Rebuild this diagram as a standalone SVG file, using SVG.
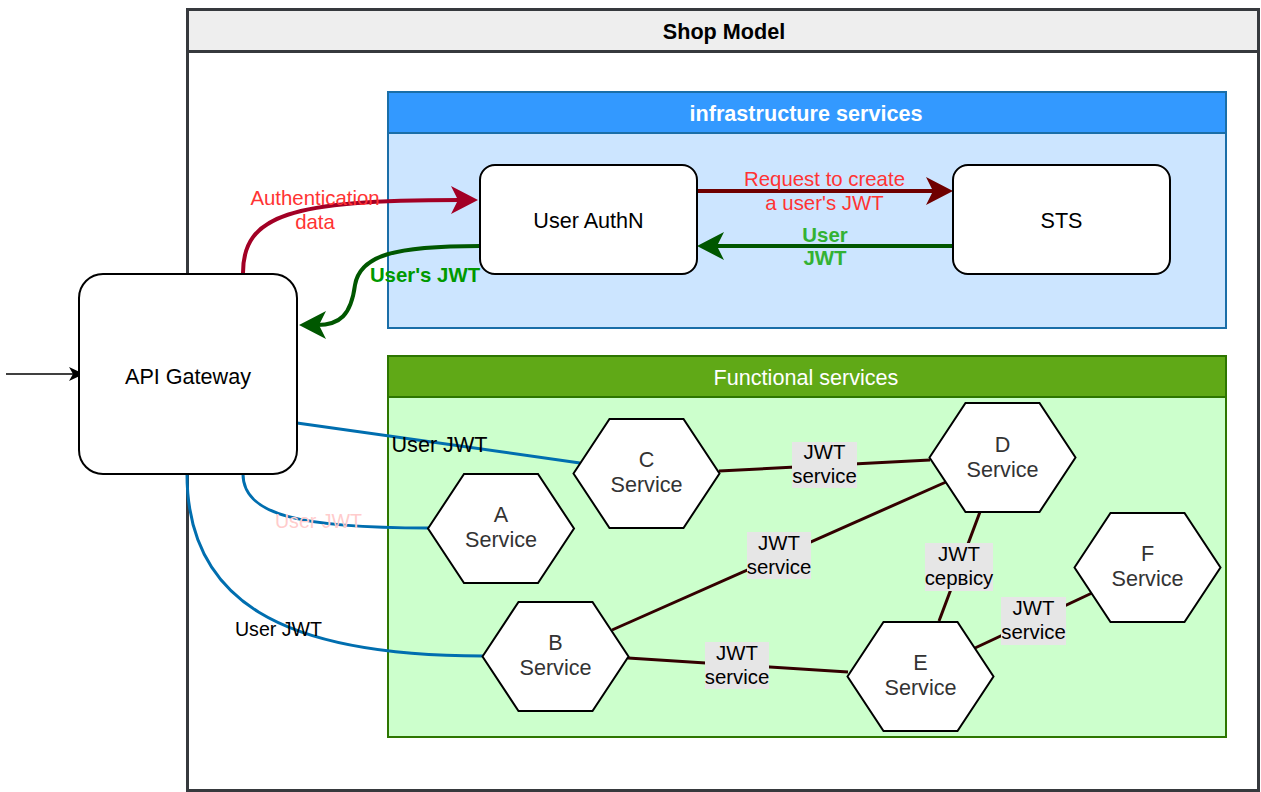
<svg xmlns="http://www.w3.org/2000/svg" width="1261" height="792" viewBox="0 0 1261 792">
  <style>
    text { font-family: "Liberation Sans", Arial, Helvetica, sans-serif; text-anchor: middle; }
    .t22 { font-size: 21.6px; fill: #000; }
    .t20 { font-size: 20.4px; fill: #000; }
    .t19 { font-size: 19.6px; }
    .bold { font-weight: bold; }
    .hex { fill: #ffffff; stroke: #000; stroke-width: 2; }
    .hexlbl { font-size: 21.6px; fill: #333333; }
    .box { fill: #ffffff; stroke: #000; stroke-width: 2; }
    .svc { fill: none; stroke: #330000; stroke-width: 3; }
    .jwt { fill: none; stroke: #006eaf; stroke-width: 3; }
    .lblbg { fill: #e6e6e6; }
  </style>
  <defs>
    <marker id="arrCrimson" markerUnits="userSpaceOnUse" markerWidth="28" markerHeight="28" viewBox="0 0 28 28" refX="9" refY="14" orient="auto">
      <path d="M0,0 L27,14 L0,28 L7,14 Z" fill="#a20025"/>
    </marker>
    <marker id="arrGreen" markerUnits="userSpaceOnUse" markerWidth="28" markerHeight="28" viewBox="0 0 28 28" refX="9" refY="14" orient="auto">
      <path d="M0,0 L27,14 L0,28 L7,14 Z" fill="#005700"/>
    </marker>
    <marker id="arrDarkRed" markerUnits="userSpaceOnUse" markerWidth="28" markerHeight="28" viewBox="0 0 28 28" refX="9" refY="14" orient="auto">
      <path d="M0,0 L27,14 L0,28 L7,14 Z" fill="#6f0000"/>
    </marker>
    <marker id="arrBlack" markerUnits="userSpaceOnUse" markerWidth="16" markerHeight="16" viewBox="0 0 16 16" refX="5" refY="8" orient="auto">
      <path d="M0,1 L15,8 L0,15 L4,8 Z" fill="#000"/>
    </marker>
  </defs>

  <rect width="1261" height="792" fill="#ffffff"/>

  <!-- Shop Model container -->
  <g id="shop-model">
    <rect x="187.5" y="9.5" width="1071" height="781" fill="#ffffff" stroke="#36393d" stroke-width="3"/>
    <rect x="187.5" y="9.5" width="1071" height="42" fill="#eeeeee" stroke="#36393d" stroke-width="3"/>
    <text class="t22 bold" x="724" y="38.5">Shop Model</text>
  </g>

  <!-- infrastructure services container -->
  <g id="infrastructure-services">
    <rect x="388" y="92" width="838" height="236" fill="#cce5ff" stroke="#1a6ea8" stroke-width="2"/>
    <rect x="388" y="92" width="838" height="41" fill="#3399ff" stroke="#1a6ea8" stroke-width="2"/>
    <text class="t22 bold" x="806" y="120.5" fill="#ffffff" style="fill:#ffffff">infrastructure services</text>
  </g>

  <!-- Functional services container -->
  <g id="functional-services">
    <rect x="388" y="356" width="838" height="381" fill="#ccffcc" stroke="#2d7600" stroke-width="2"/>
    <rect x="388" y="356" width="838" height="41" fill="#60a917" stroke="#2d7600" stroke-width="2"/>
    <text class="t22" x="806" y="384.5" style="fill:#ffffff">Functional services</text>
  </g>

  <!-- Connectors -->
  <g id="connectors">
    <!-- incoming request -->
    <path d="M6,374 L74,374" fill="none" stroke="#000" stroke-width="1.5" marker-end="url(#arrBlack)"/>

    <!-- authentication flow -->
    <path d="M243,273 C243,215 290,200 460,200" fill="none" stroke="#a20025" stroke-width="4" marker-end="url(#arrCrimson)"/>
    <path d="M480,246 C395,246 360,255 355,285 C351,315 340,325 317,325" fill="none" stroke="#005700" stroke-width="4" marker-end="url(#arrGreen)"/>
    <path d="M697,191 L935,191" fill="none" stroke="#6f0000" stroke-width="4" marker-end="url(#arrDarkRed)"/>
    <path d="M953,246 L715,246" fill="none" stroke="#005700" stroke-width="4" marker-end="url(#arrGreen)"/>

    <text class="t20" x="315" y="205" style="fill:#ff3333">Authentication</text>
    <text class="t20" x="315" y="229" style="fill:#ff3333">data</text>
    <text class="t20 bold" x="425" y="282" style="fill:#009900">User's JWT</text>
    <text class="t20" x="824.5" y="186" style="fill:#ff3333">Request to create</text>
    <text class="t20" x="824.5" y="210" style="fill:#ff3333">a user's JWT</text>
    <text class="t20 bold" x="825" y="242" style="fill:#33b233">User</text>
    <text class="t20 bold" x="825" y="265" style="fill:#33b233">JWT</text>

    <!-- user JWT to functional services -->
    <path class="jwt" d="M297,423 L580,463"/>
    <path class="jwt" d="M243,474 C243,515 300,528 429,528"/>
    <path class="jwt" d="M187,474 C187,600 280,656 483,656"/>
    <text class="t22" x="439.5" y="452">User JWT</text>
    <text class="t19" x="318.5" y="528" style="fill:#ffcccc">User JWT</text>
    <text class="t19" x="278.5" y="636" style="fill:#000">User JWT</text>

    <!-- service-to-service JWT -->
    <path class="svc" d="M719,471 L930,460"/>
    <path class="svc" d="M612,630 L946,482"/>
    <path class="svc" d="M980,512 L939,621"/>
    <path class="svc" d="M975,648 L1092,593"/>
    <path class="svc" d="M628,658 L848,672"/>

    <rect class="lblbg" x="792" y="442" width="65" height="46"/>
    <text class="t20" x="824.5" y="459">JWT</text>
    <text class="t20" x="824.5" y="483">service</text>

    <rect class="lblbg" x="747" y="532" width="64" height="47"/>
    <text class="t20" x="779" y="549.5">JWT</text>
    <text class="t20" x="779" y="573.5">service</text>

    <rect class="lblbg" x="925" y="543" width="68" height="48"/>
    <text class="t20" x="959" y="561">JWT</text>
    <text class="t20" x="959" y="585">сервісу</text>

    <rect class="lblbg" x="1001" y="597" width="65" height="48"/>
    <text class="t20" x="1033.5" y="615">JWT</text>
    <text class="t20" x="1033.5" y="639">service</text>

    <rect class="lblbg" x="705" y="642" width="64" height="47"/>
    <text class="t20" x="737" y="659.5">JWT</text>
    <text class="t20" x="737" y="683.5">service</text>
  </g>

  <!-- Nodes -->
  <g id="api-gateway">
    <rect class="box" x="79" y="274" width="218" height="200" rx="24" ry="24"/>
    <text class="t22" x="188" y="383.5">API Gateway</text>
  </g>

  <g id="user-authn">
    <rect class="box" x="480" y="165" width="217" height="109" rx="15" ry="15"/>
    <text class="t22" x="588.5" y="227.5">User AuthN</text>
  </g>

  <g id="sts">
    <rect class="box" x="953" y="165" width="217" height="109" rx="15" ry="15"/>
    <text class="t22" x="1061.5" y="227.5">STS</text>
  </g>

  <g id="service-a">
    <polygon class="hex" points="428,528.5 464,474 538,474 574,528.5 538,583 464,583"/>
    <text class="hexlbl" x="501" y="522">A</text>
    <text class="hexlbl" x="501" y="547">Service</text>
  </g>

  <g id="service-b">
    <polygon class="hex" points="482.5,656.5 518.5,602 592.5,602 628.5,656.5 592.5,711 518.5,711"/>
    <text class="hexlbl" x="555.5" y="650">B</text>
    <text class="hexlbl" x="555.5" y="675">Service</text>
  </g>

  <g id="service-c">
    <polygon class="hex" points="573.5,473.5 609.5,419 683.5,419 719.5,473.5 683.5,528 609.5,528"/>
    <text class="hexlbl" x="646.5" y="467">C</text>
    <text class="hexlbl" x="646.5" y="492">Service</text>
  </g>

  <g id="service-d">
    <polygon class="hex" points="929.5,457.5 965.5,403 1039.5,403 1075.5,457.5 1039.5,512 965.5,512"/>
    <text class="hexlbl" x="1002.5" y="451.5">D</text>
    <text class="hexlbl" x="1002.5" y="476.5">Service</text>
  </g>

  <g id="service-e">
    <polygon class="hex" points="847.5,676.5 883.5,622 957.5,622 993.5,676.5 957.5,731 883.5,731"/>
    <text class="hexlbl" x="920.5" y="670">E</text>
    <text class="hexlbl" x="920.5" y="695">Service</text>
  </g>

  <g id="service-f">
    <polygon class="hex" points="1074.5,567.5 1110.5,513 1184.5,513 1220.5,567.5 1184.5,622 1110.5,622"/>
    <text class="hexlbl" x="1147.5" y="561">F</text>
    <text class="hexlbl" x="1147.5" y="586">Service</text>
  </g>
</svg>
